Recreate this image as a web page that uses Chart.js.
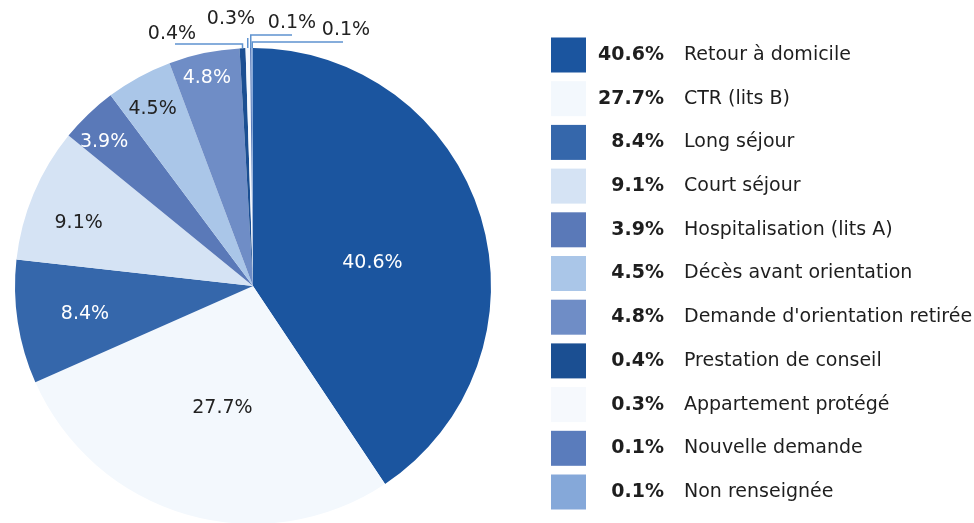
<!DOCTYPE html>
<html><head><meta charset="utf-8">
<script src="https://cdn.jsdelivr.net/npm/chart.js@4.4.1/dist/chart.umd.min.js"></script>
<style>
html,body{margin:0;padding:0;background:#fff;overflow:hidden;width:974px;height:523px;}
#wrap{position:absolute;left:0;top:0;width:974px;height:530px;}
</style></head><body>
<div id="wrap"><canvas id="c" width="974" height="530"></canvas></div>
<script>
// ---- data ----
const categories = [
  'Retour à domicile', 'CTR (lits B)', 'Long séjour', 'Court séjour',
  'Hospitalisation (lits A)', 'Décès avant orientation', "Demande d'orientation retirée",
  'Prestation de conseil', 'Appartement protégé', 'Nouvelle demande', 'Non renseignée'
];
const values = [40.6, 27.7, 8.4, 9.1, 3.9, 4.5, 4.8, 0.4, 0.3, 0.1, 0.1];
const colors = [
  '#1b559f', '#f3f8fd', '#3567ab', '#d5e3f4', '#5a79b8', '#aac6e8',
  '#6f8dc6', '#1b4f92', '#f6f9fd', '#5a7cbc', '#85a8d9'
];
// label text colours inside slices
const labelColors = ['#fff', '#222', '#fff', '#222', '#fff', '#222', '#fff', '#222', '#222', '#222', '#222'];

const FONT = '"DejaVu Sans", sans-serif';
const fmt = v => v.toFixed(1) + '%';

// small pixel nudges for the in-slice labels (style only)
const labelNudge = {0: [1, 13], 1: [4, 3], 2: [6, 1], 3: [-12, 5], 4: [-4, 7], 5: [0, 7], 6: [-3, -3]};

// callout layout for tiny slices (index -> text centre, elbow y, line end x)
const callouts = {
  7: {tx: 172, ty: 34, elbowY: 44, endX: 175},
  8: {tx: 231, ty: 19, elbowY: 38, endX: null},
  9: {tx: 292, ty: 23, elbowY: 35, endX: 292},
  10: {tx: 346, ty: 30, elbowY: 42, endX: 343}
};

const labelPlugin = {
  id: 'labels',
  afterDatasetsDraw(chart) {
    const ctx = chart.ctx;
    const meta = chart.getDatasetMeta(0);
    ctx.save();
    ctx.font = '19px ' + FONT;
    ctx.textAlign = 'center';
    ctx.textBaseline = 'middle';
    meta.data.forEach((arc, i) => {
      const {x, y, startAngle, endAngle, outerRadius} = arc.getProps(['x','y','startAngle','endAngle','outerRadius'], true);
      const mid = (startAngle + endAngle) / 2;
      const v = values[i];
      if (callouts[i]) {
        const c = callouts[i];
        const ex = x + outerRadius * Math.cos(mid);
        const ey = y + outerRadius * Math.sin(mid);
        ctx.strokeStyle = '#5f93cf';
        ctx.lineWidth = 1.5;
        ctx.beginPath();
        ctx.moveTo(ex, ey);
        ctx.lineTo(ex, c.elbowY);
        if (c.endX !== null) ctx.lineTo(c.endX, c.elbowY);
        ctx.stroke();
        ctx.fillStyle = '#222';
        ctx.fillText(fmt(v), c.tx, c.ty);
        return;
      }
      const f = v > 20 ? 0.52 : (v > 6 ? 0.74 : 0.88);
      const n = labelNudge[i] || [0, 0];
      ctx.fillStyle = labelColors[i];
      ctx.fillText(fmt(v), x + outerRadius * f * Math.cos(mid) + n[0], y + outerRadius * f * Math.sin(mid) + n[1]);
    });
    ctx.restore();
  },
  afterDraw(chart) {
    const ctx = chart.ctx;
    ctx.save();
    ctx.textBaseline = 'middle';
    categories.forEach((name, i) => {
      const cy = 55 + i * 43.7;
      ctx.fillStyle = colors[i];
      ctx.fillRect(551, cy - 17.5, 35, 35);
      ctx.fillStyle = '#1e1e1e';
      ctx.font = 'bold 19px ' + FONT;
      ctx.textAlign = 'right';
      ctx.fillText(fmt(values[i]), 664, cy);
      ctx.font = '19px ' + FONT;
      ctx.textAlign = 'left';
      ctx.fillText(name, 684, cy);
    });
    ctx.restore();
  }
};

new Chart(document.getElementById('c'), {
  type: 'pie',
  data: {
    labels: categories,
    datasets: [{
      data: values,
      backgroundColor: colors,
      borderWidth: 0,
      hoverOffset: 0
    }]
  },
  options: {
    responsive: false,
    animation: false,
    events: [],
    layout: {padding: {left: 15, top: 48, right: 483, bottom: 6}},
    plugins: {legend: {display: false}, tooltip: {enabled: false}}
  },
  plugins: [labelPlugin]
});
</script>
</body></html>
